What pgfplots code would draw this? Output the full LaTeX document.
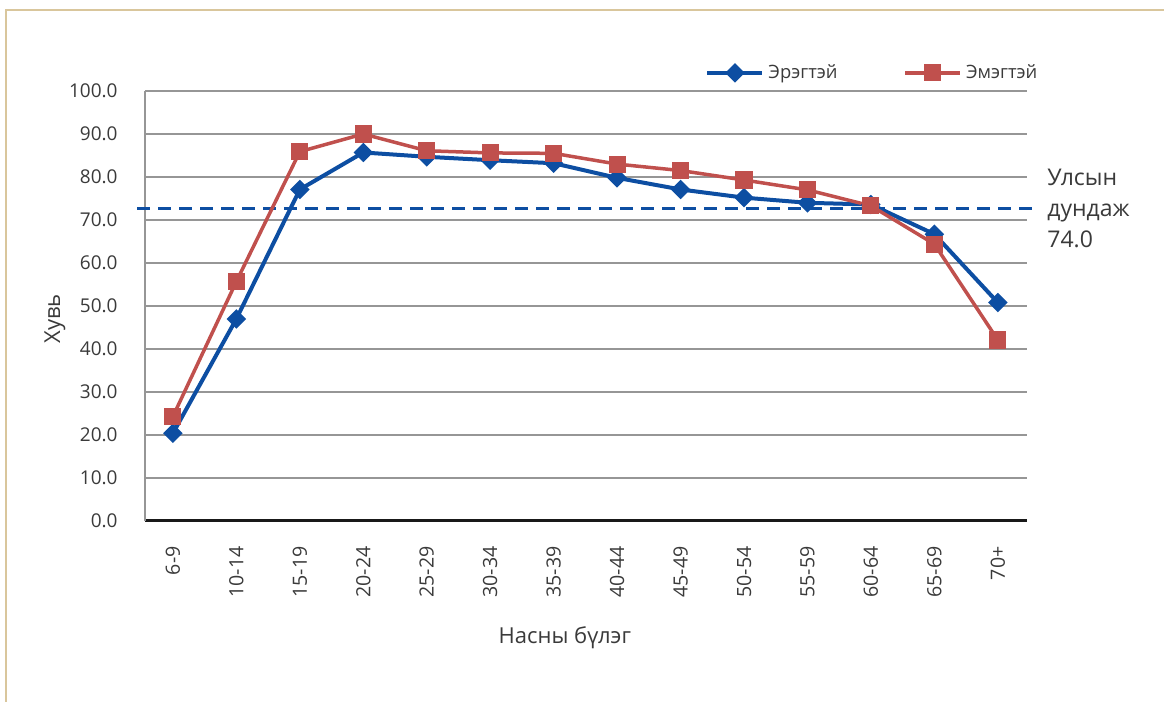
\documentclass[border=0pt]{standalone}
\usepackage{fontspec}
\setmainfont{Open Sans}
\usepackage{pgfplots}
\pgfplotsset{compat=1.18}
\definecolor{mblue}{HTML}{0D4EA2}
\definecolor{mred}{HTML}{C0504D}
\definecolor{gridg}{HTML}{969696}
\definecolor{txt}{HTML}{3A3A3A}
\definecolor{framec}{HTML}{D9C69C}
\begin{document}
\begin{tikzpicture}
\path[use as bounding box] (0bp,0bp) rectangle (582bp,351bp);
\draw[framec, line width=0.9bp] (3bp,0bp) -- (3bp,346bp) -- (582bp,346bp);
\begin{axis}[
  at={(72.5bp,90.5bp)}, anchor=south west,
  scale only axis, width=441bp, height=215bp,
  xmin=-0.44, xmax=13.46, ymin=0, ymax=100,
  clip=false,
  axis lines*=left,
  x axis line style={-, color=black!90, line width=1.5bp},
  y axis line style={-, color=gridg, line width=1bp},
  major tick length=0pt,
  ymajorgrids, grid style={gridg, line width=1bp},
  ytick={0,10,...,100},
  xtick={0,...,13},
  xticklabels={6-9,10-14,15-19,20-24,25-29,30-34,35-39,40-44,45-49,50-54,55-59,60-64,65-69,70+},
  yticklabel style={anchor=east, inner sep=0pt, xshift=-13.5bp, font=\fontsize{9.5bp}{11bp}\selectfont, color=txt,
    /pgf/number format/.cd, fixed, fixed zerofill, precision=1, assume math mode=true},
  xticklabel style={yshift=-12.5bp, rotate=90, anchor=east, inner sep=0pt, font=\fontsize{9.8bp}{11bp}\selectfont, color=txt},
  ylabel={Хувь},
  ylabel style={at={(axis description cs:-0.102,0.47)}, anchor=center, font=\fontsize{11bp}{13bp}\selectfont, color=txt},
  xlabel={Насны бүлэг},
  xlabel style={at={(axis description cs:0.476,-0.272)}, anchor=center, font=\fontsize{11bp}{13bp}\selectfont, color=txt},
  legend style={at={(axis description cs:0.635,1.042)}, anchor=west, draw=none, fill=none,
    font=\fontsize{9.2bp}{11bp}\selectfont, text=txt, inner sep=0pt,
    /tikz/every even column/.append style={column sep=31bp}},
  legend columns=2,
  legend cell align=left,
  legend image code/.code={\draw[mark repeat=2,mark phase=2,#1] plot coordinates {(0bp,0bp) (13.75bp,0bp) (27.5bp,0bp)};},
]
\addplot[mblue, line width=1.5bp, dashed, dash pattern=on 6.5bp off 4bp, forget plot] coordinates {(-0.566,72.6) (13.586,72.6)};
\addplot[mblue, line width=2bp, mark=square*, mark size=2.45bp, mark options={rotate=45, solid}] coordinates {
(0,20.4) (1,47.0) (2,77.1) (3,85.7) (4,84.7) (5,83.9) (6,83.2) (7,79.8) (8,77.1) (9,75.2) (10,74.0) (11,73.6) (12,66.7) (13,50.8)};
\addlegendentry{Эрэгтэй}
\addplot[mred, line width=1.75bp, mark=square*, mark size=3.4bp, mark options={solid}] coordinates {
(0,24.3) (1,55.7) (2,85.9) (3,90.0) (4,86.1) (5,85.6) (6,85.5) (7,83.0) (8,81.5) (9,79.3) (10,77.0) (11,73.3) (12,64.4) (13,42.1)};
\addlegendentry{Эмэгтэй}
\node[anchor=west, align=left, inner sep=0pt, font=\fontsize{11.5bp}{15.5bp}\selectfont, text=txt] at (axis cs:13.775,72.6) {Улсын\\дундаж\\74.0};
\end{axis}
\end{tikzpicture}
\end{document}
